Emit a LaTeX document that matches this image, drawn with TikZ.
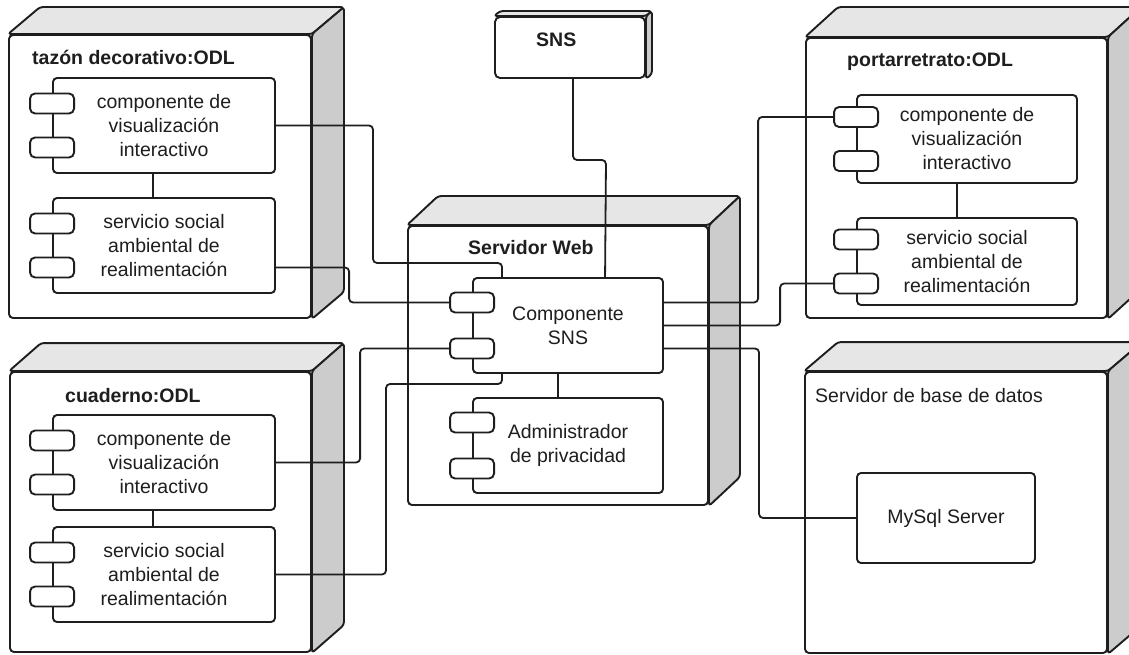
\documentclass[tikz,border=0pt]{standalone}
\usepackage{fontspec}
\setmainfont{Liberation Sans}
\usetikzlibrary{calc}
\pgfdeclarelayer{back}
\pgfsetlayers{back,main}
\definecolor{ink}{HTML}{1E1E1E}
\definecolor{topgray}{HTML}{E6E6E6}
\definecolor{sidegray}{HTML}{CCCCCC}
\newcommand\dgmfont{\fontsize{19.5}{24}\selectfont}

% top and side faces of a 3-D node box, drawn behind its front face
\newcommand\cubefaces[3]{%
  \begin{pgfonlayer}{back}
    \filldraw[topface] (#1.north west) -- ++(#2,-#3) -- ($(#1.north east)+(#2,-#3)$) -- (#1.north east) -- cycle;
    \filldraw[sideface] (#1.north east) -- ++(#2,-#3) -- ($(#1.south east)+(#2,-#3)$) -- (#1.south east) -- cycle;
  \end{pgfonlayer}}

\tikzset{
  frontface/.style={draw=ink, fill=white, line width=1.9pt, rounded corners=4pt, inner sep=0pt},
  topface/.style={draw=ink, fill=topgray, line width=1.9pt, rounded corners=3pt, line join=round},
  sideface/.style={draw=ink, fill=sidegray, line width=1.9pt, rounded corners=3pt, line join=round},
  comp/.style={draw=ink, fill=white, line width=1.9pt, rounded corners=4pt, align=center, inner sep=0pt, text=ink},
  port/.style={draw=ink, fill=white, line width=1.9pt, rounded corners=5pt, minimum width=44pt, minimum height=20pt, inner sep=0pt},
  wire/.style={draw=ink, line width=1.8pt, rounded corners=4pt},
  title/.style={anchor=base west, inner sep=0pt, text=ink, font=\dgmfont\bfseries},
  plaintitle/.style={anchor=base west, inner sep=0pt, text=ink, font=\dgmfont},
}

\begin{document}
\begin{tikzpicture}[x=1pt, y=-1pt, font=\dgmfont]
\useasboundingbox (0,0) rectangle (1129,655);
\begin{pgfonlayer}{back}
  \fill[white] (0,0) rectangle (1129,655);
\end{pgfonlayer}

% ---- node boxes ----
\node[frontface, minimum width=302pt, minimum height=283pt] (tz) at (160,176.5) {};
\cubefaces{tz}{32}{27}
\node[frontface, minimum width=301pt, minimum height=280pt] (cd) at (160.5,512) {};
\cubefaces{cd}{32}{28}
\node[frontface, minimum width=300pt, minimum height=279pt] (sw) at (558,365.5) {};
\cubefaces{sw}{31}{29}
\node[frontface, minimum width=301pt, minimum height=280pt] (pr) at (956.5,178) {};
\cubefaces{pr}{33}{30}
\node[frontface, minimum width=302pt, minimum height=281pt] (db) at (956,512.5) {};
\cubefaces{db}{34}{29}
\node[frontface, rounded corners=5pt, minimum width=150pt, minimum height=61pt] (sns) at (570,47.5) {};
\cubefaces{sns}{6}{5}

% ---- titles ----
\node[title] (tztitle) at (32,65) {tazón decorativo:ODL};
\node[title] (cdtitle) at (65,402) {cuaderno:ODL};
\node[title] (swtitle) at (468,254) {Servidor Web};
\node[title] (prtitle) at (847,67) {portarretrato:ODL};
\node[plaintitle] (dbtitle) at (815,402) {Servidor de base de datos};
\node[title] (snstitle) at (536,47) {SNS};

% ---- components ----
\node[comp, minimum width=222pt, minimum height=95pt] (tz1) at (164,125.5) {componente de\\visualización\\interactivo};
\node[comp, minimum width=222pt, minimum height=95pt] (tz2) at (164,245.5) {servicio social\\ambiental de\\realimentación};
\node[comp, minimum width=222pt, minimum height=95pt] (cd1) at (164,462.5) {componente de\\visualización\\interactivo};
\node[comp, minimum width=222pt, minimum height=95pt] (cd2) at (164,574.5) {servicio social\\ambiental de\\realimentación};
\node[comp, minimum width=220pt, minimum height=88pt] (pr1) at (967,139) {componente de\\visualización\\interactivo};
\node[comp, minimum width=220pt, minimum height=87pt] (pr2) at (967,261.5) {servicio social\\ambiental de\\realimentación};
\node[comp, minimum width=190pt, minimum height=95pt] (cs) at (568,325.5) {Componente\\SNS};
\node[comp, minimum width=190pt, minimum height=95pt] (adm) at (568,445.5) {Administrador\\de privacidad};
\node[comp, minimum width=178pt, minimum height=90pt] (my) at (946,518) {MySql Server};

% ---- component ports ----
\foreach \c in {tz1,tz2,cd1,cd2,pr1,pr2} {
  \node[port] (\c a) at ($(\c.west)+(0,-22)$) {};
  \node[port] (\c b) at ($(\c.west)+(0,22)$) {};
}
\foreach \c in {cs,adm} {
  \node[port] (\c a) at ($(\c.west)+(0,-23)$) {};
  \node[port] (\c b) at ($(\c.west)+(0,23)$) {};
}

% ---- links inside the node boxes ----
\draw[wire] ([xshift=-11pt]tz1.south) -- ([xshift=-11pt]tz2.north);
\draw[wire] ([xshift=-11pt]cd1.south) -- ([xshift=-11pt]cd2.north);
\draw[wire] ([xshift=-10pt]pr1.south) -- ([xshift=-10pt]pr2.north);
\draw[wire] ([xshift=-10pt]cs.south) -- ([xshift=-10pt]adm.north);

% ---- connectors ----
\draw[wire] ($(sns.south)+(3,0)$) |- (606,160) -- ($(cs.north west)+(133,0)$);
\draw[wire] (tz1.east) -| (373,263) -| ($(cs.north west)+(30,0)$);
\draw[wire] (tz2.east |- tz2b) -| ($(csa.west)+(-100,0)$) -- (csa.west);
\draw[wire] (cd1.east) -| ($(csb.west)+(-89,0)$) -- (csb.west);
\draw[wire] (cd2.east) -| (386,384) -| ($(cs.south west)+(30,0)$);
\draw[wire] (cs.east |- csa) -| ($(pr1a.west)+(-75,0)$) -- (pr1a.west);
\draw[wire] (cs.east) -| ($(pr2b.west)+(-53,0)$) -- (pr2b.west);
\draw[wire] (cs.east |- csb) -| ($(my.west)+(-97,0)$) -- (my.west);
\end{tikzpicture}
\end{document}
